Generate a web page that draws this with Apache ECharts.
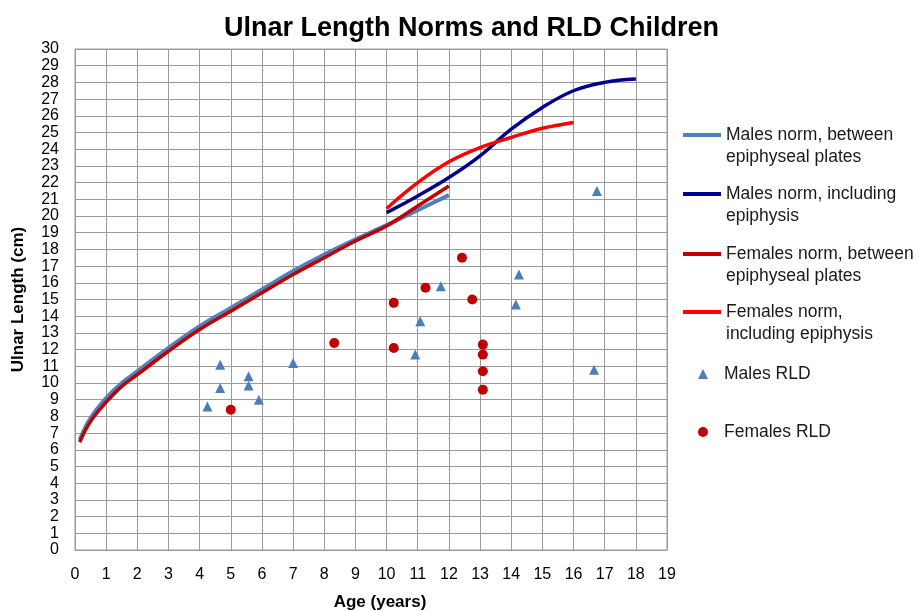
<!DOCTYPE html>
<html>
<head>
<meta charset="utf-8">
<script src="https://cdn.jsdelivr.net/npm/echarts@6/dist/echarts.min.js"></script>
<style>
  html, body { margin: 0; padding: 0; background: #fff; }
  #chart { width: 919px; height: 611px; }
</style>
</head>
<body>
<div id="chart"></div>
<script>
// norm curves (age in years, ulnar length in cm)
var maleNormAges = [0.15, 0.5, 1, 1.5, 2, 3, 4, 5, 6, 7, 8, 9, 10, 11, 12];
var maleNormPlates = [6.6, 7.9, 9.1, 10.0, 10.7, 12.1, 13.4, 14.5, 15.6, 16.7, 17.7, 18.6, 19.45, 20.35, 21.25];
var femaleNormPlates = [6.45, 7.7, 8.85, 9.8, 10.5, 11.9, 13.2, 14.3, 15.4, 16.5, 17.5, 18.5, 19.4, 20.6, 21.8];

var maleEpiAges = [10, 11, 12, 13, 14, 15, 16, 17, 18];
var maleNormEpi = [20.2, 21.2, 22.3, 23.6, 25.2, 26.5, 27.5, 28.0, 28.2];

var femaleEpiAges = [10, 11, 12, 13, 14, 15, 16];
var femaleNormEpi = [20.45, 22.0, 23.25, 24.1, 24.7, 25.25, 25.6];

// RLD children
var maleRldAges = [4.25, 4.66, 4.66, 5.57, 5.57, 5.9, 7.0, 10.92, 11.08, 11.74, 14.15, 14.25, 16.66, 16.75];
var maleRldLen = [8.6, 11.1, 9.7, 10.4, 9.85, 9.0, 11.2, 11.7, 13.7, 15.8, 14.7, 16.5, 10.8, 21.5];

var femaleRldAges = [5.0, 8.32, 10.23, 10.23, 11.25, 12.42, 12.75, 13.09, 13.09, 13.09, 13.09];
var femaleRldLen = [8.4, 12.4, 14.8, 12.1, 15.7, 17.5, 15.0, 12.3, 11.7, 10.7, 9.6];

var xTicks = [0, 19];
var yTicks = [0, 30];

var seriesNames = [
    'Males norm, between epiphyseal plates',
    'Males norm, including epiphysis',
    'Females norm, between epiphyseal plates',
    'Females norm, including epiphysis',
    'Males RLD',
    'Females RLD'
];
var legendLabels = [
    'Males norm, between\nepiphyseal plates',
    'Males norm, including\nepiphysis',
    'Females norm, between\nepiphyseal plates',
    'Females norm,\nincluding epiphysis',
    'Males RLD',
    'Females RLD'
];
var colors = ['#4f81bd', '#00008f', '#c00000', '#ff0000', '#4a7ebb', '#c00000'];

function zip(xs, ys) {
    var out = [];
    for (var i = 0; i < xs.length; i++) {
        out.push([xs[i], ys[i]]);
    }
    return out;
}

var font = '"Liberation Sans", Arial, Helvetica, sans-serif';
var gridColor = '#9b9b9b';

// legend for one norm line: blank first line so the icon sits beside the first text line
function lineLegend(idx, top) {
    return {
        data: [{ name: seriesNames[idx], icon: 'rect', itemStyle: { color: colors[idx] } }],
        left: 678,
        top: top,
        itemWidth: 38,
        itemHeight: 4,
        selectedMode: false,
        formatter: function () { return '\n' + legendLabels[idx]; },
        textStyle: { fontFamily: font, fontSize: 17.5, color: '#1a1a1a', lineHeight: 22 }
    };
}

function markLegend(idx, top, icon) {
    return {
        data: [{ name: seriesNames[idx], icon: icon, itemStyle: { color: colors[idx], opacity: 1 } }],
        left: 693,
        top: top,
        itemWidth: 10,
        itemHeight: 10,
        selectedMode: false,
        formatter: function () { return legendLabels[idx]; },
        textStyle: { fontFamily: font, fontSize: 17.5, color: '#1a1a1a', lineHeight: 22, padding: [0, 0, 0, 11] }
    };
}

var ech = echarts.init(document.getElementById('chart'));
var option = {
    backgroundColor: '#fff',
    animation: false,
    title: {
        text: 'Ulnar Length Norms and RLD Children',
        left: 219,
        top: 10,
        textStyle: { fontFamily: font, fontSize: 27, fontWeight: 'bold', color: '#000' }
    },
    legend: [
        lineLegend(0, 97),
        lineLegend(1, 156),
        lineLegend(2, 216),
        lineLegend(3, 274),
        markLegend(4, 358, 'triangle'),
        markLegend(5, 416, 'circle')
    ],
    grid: {
        left: 75,
        right: 252,
        top: 49,
        bottom: 61,
        outerBoundsMode: 'none',
        containLabel: false,
        show: true,
        borderColor: gridColor,
        borderWidth: 1
    },
    xAxis: {
        type: 'value',
        min: xTicks[0],
        max: xTicks[1],
        interval: 1,
        name: 'Age (years)',
        nameLocation: 'middle',
        nameGap: 44,
        nameTextStyle: {
            fontFamily: font, fontSize: 17, fontWeight: 'bold', color: '#000',
            padding: [0, 0, 0, 18]
        },
        axisLine: { show: true, lineStyle: { color: gridColor } },
        axisTick: { show: false },
        axisLabel: { fontFamily: font, fontSize: 16, color: '#000', margin: 17 },
        splitLine: { show: true, lineStyle: { color: gridColor, width: 1 } }
    },
    yAxis: {
        type: 'value',
        min: yTicks[0],
        max: yTicks[1],
        interval: 1,
        name: 'Ulnar Length (cm)',
        nameLocation: 'middle',
        nameGap: 48,
        nameTextStyle: { fontFamily: font, fontSize: 17, fontWeight: 'bold', color: '#000' },
        axisLine: { show: true, lineStyle: { color: gridColor } },
        axisTick: { show: false },
        axisLabel: { fontFamily: font, fontSize: 16, color: '#000', margin: 16 },
        splitLine: { show: true, lineStyle: { color: gridColor, width: 1 } }
    },
    series: [
        {
            name: seriesNames[0], type: 'line', smooth: 0.4, symbol: 'none', z: 3,
            lineStyle: { color: colors[0], width: 4 },
            itemStyle: { color: colors[0] },
            data: zip(maleNormAges, maleNormPlates)
        },
        {
            name: seriesNames[1], type: 'line', smooth: 0.4, symbol: 'none', z: 3,
            lineStyle: { color: colors[1], width: 3.5 },
            itemStyle: { color: colors[1] },
            data: zip(maleEpiAges, maleNormEpi)
        },
        {
            name: seriesNames[2], type: 'line', smooth: 0.4, symbol: 'none', z: 4,
            lineStyle: { color: colors[2], width: 3.5 },
            itemStyle: { color: colors[2] },
            data: zip(maleNormAges, femaleNormPlates)
        },
        {
            name: seriesNames[3], type: 'line', smooth: 0.4, symbol: 'none', z: 4,
            lineStyle: { color: colors[3], width: 3.5 },
            itemStyle: { color: colors[3] },
            data: zip(femaleEpiAges, femaleNormEpi)
        },
        {
            name: seriesNames[4], type: 'scatter', symbol: 'triangle', symbolSize: 10, z: 5,
            itemStyle: { color: colors[4], opacity: 1 },
            data: zip(maleRldAges, maleRldLen)
        },
        {
            name: seriesNames[5], type: 'scatter', symbol: 'circle', symbolSize: 10, z: 5,
            itemStyle: { color: colors[5], opacity: 1 },
            data: zip(femaleRldAges, femaleRldLen)
        }
    ]
};
ech.setOption(option);
</script>
</body>
</html>
